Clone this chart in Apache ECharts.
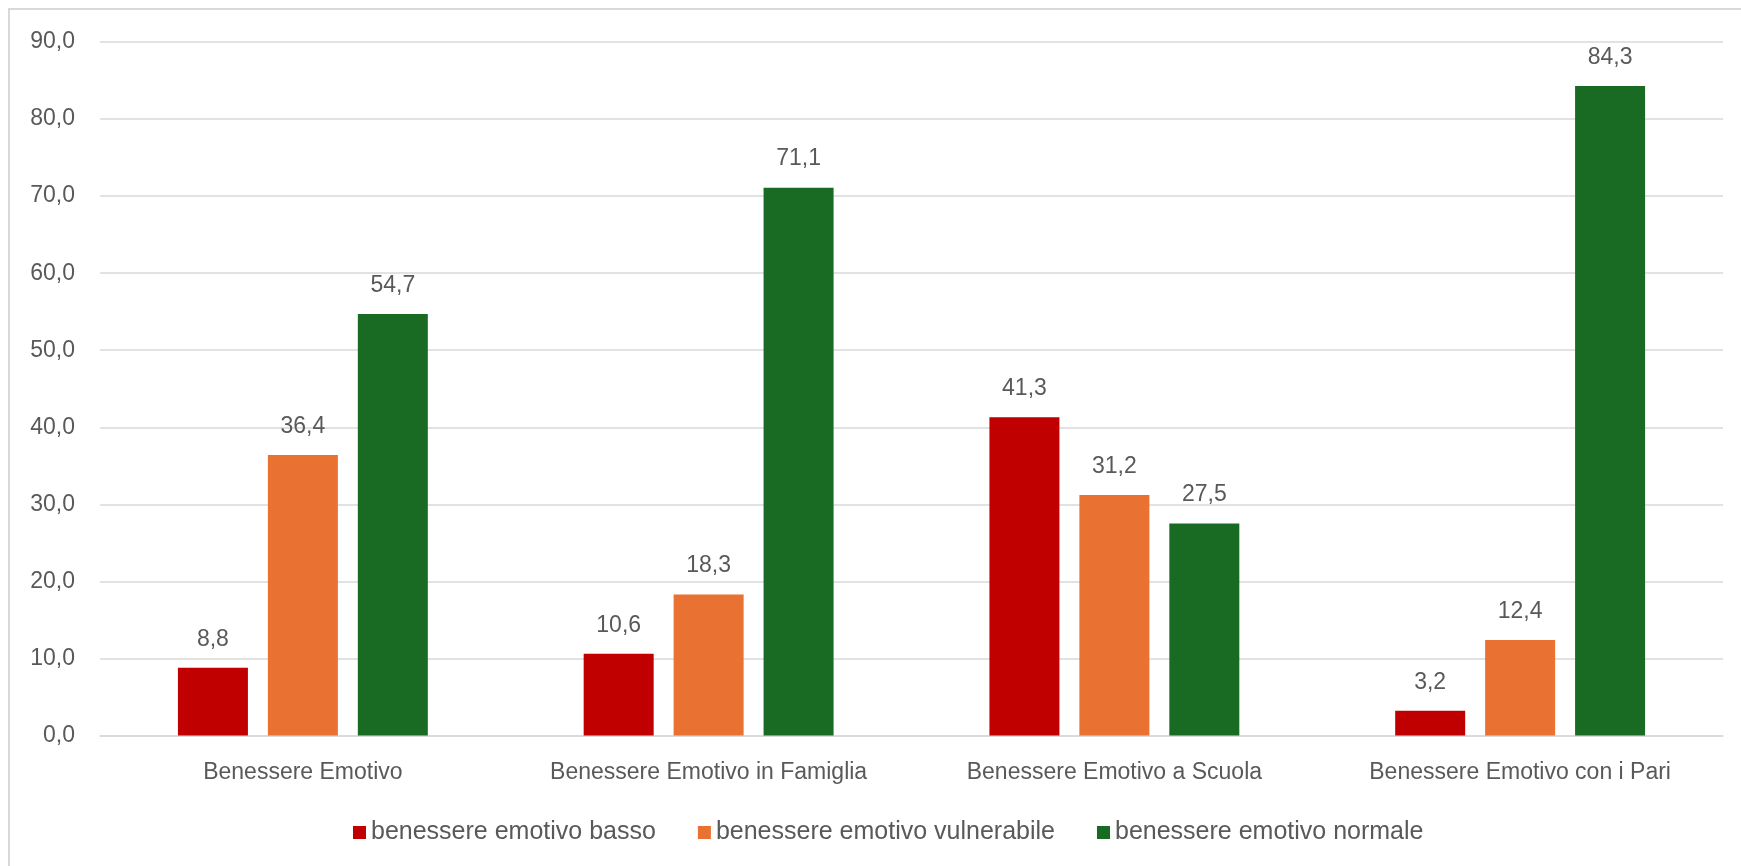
<!DOCTYPE html>
<html><head><meta charset="utf-8">
<script src="https://cdn.jsdelivr.net/npm/echarts@6/dist/echarts.min.js"></script>
<style>html,body{margin:0;padding:0;background:#fff}#c{width:1741px;height:866px}</style>
</head><body><div id="c"></div>
<script>
const categories = ["Benessere Emotivo", "Benessere Emotivo in Famiglia", "Benessere Emotivo a Scuola", "Benessere Emotivo con i Pari"];
const seriesNames = ["benessere emotivo basso", "benessere emotivo vulnerabile", "benessere emotivo normale"];
const basso = [8.8, 10.6, 41.3, 3.2];
const vulnerabile = [36.4, 18.3, 31.2, 12.4];
const normale = [54.7, 71.1, 27.5, 84.3];
const yTicks = [0, 10, 20, 30, 40, 50, 60, 70, 80, 90];
const colors = ["#C00000", "#E97132", "#196B24"];

const FONT = "'Liberation Sans', Arial, sans-serif";
const TXT = "#595959";
const fmt = v => Number(v).toFixed(1).replace('.', ',');

const chart = echarts.init(document.getElementById('c'), null, {renderer: 'canvas'});
const mk = (name, data, i) => ({
  name, type: 'bar', data,
  barWidth: 70, barGap: '28.5%',
  itemStyle: {color: colors[i]},
  label: {show: true, position: 'top', distance: 17, formatter: p => fmt(p.value),
    color: TXT, fontSize: 23, fontFamily: FONT}
});
chart.setOption({
  animation: false,
  backgroundColor: '#fff',
  graphic: [{type: 'rect', shape: {x: 9, y: 9, width: 1760, height: 900},
    style: {fill: 'none', stroke: '#d9d9d9', lineWidth: 2}, silent: true, z: -1}],
  grid: {left: 100, right: 18, top: 42, bottom: 130.5, containLabel: false},
  legend: {
    data: seriesNames, left: 348, top: 815, itemWidth: 13, itemHeight: 13, itemGap: 42,
    icon: 'rect', textStyle: {color: TXT, fontSize: 25, fontFamily: FONT}
  },
  xAxis: {
    type: 'category', data: categories,
    axisLine: {lineStyle: {color: '#d9d9d9', width: 1.5}},
    axisTick: {show: false},
    axisLabel: {color: TXT, fontSize: 23, fontFamily: FONT, margin: 26, interval: 0}
  },
  yAxis: {
    type: 'value', min: yTicks[0], max: yTicks[yTicks.length - 1], interval: 10,
    axisLine: {show: false}, axisTick: {show: false},
    axisLabel: {color: TXT, fontSize: 23, fontFamily: FONT, margin: 25, formatter: v => fmt(v)},
    splitLine: {lineStyle: {color: '#d9d9d9', width: 1.5}}
  },
  series: [mk(seriesNames[0], basso, 0), mk(seriesNames[1], vulnerabile, 1), mk(seriesNames[2], normale, 2)]
});
</script></body></html>
